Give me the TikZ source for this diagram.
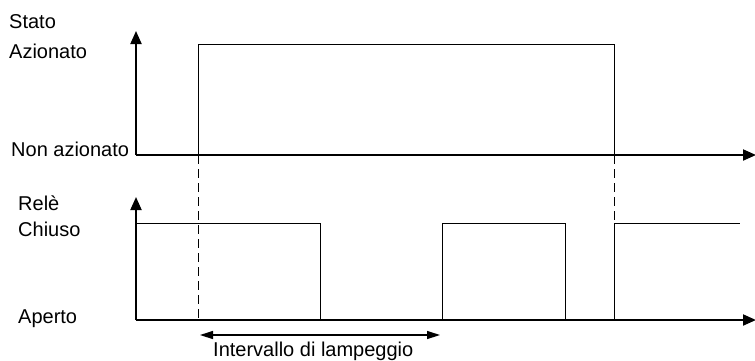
\documentclass[tikz,border=0pt]{standalone}
\usepackage{fontspec}
\setmainfont{Liberation Sans}
\usetikzlibrary{arrows,arrows.meta,positioning,calc}

\begin{document}
\begin{tikzpicture}[x=1pt,y=-1pt,
  axis/.style={line width=2pt,-{Triangle[length=13pt,width=11pt]}},
  signal/.style={line width=1pt},
  guide/.style={line width=1pt,dash pattern=on 9pt off 5pt},
  span/.style={line width=1.4pt,{Triangle[length=13pt,width=8pt]}-{Triangle[length=13pt,width=8pt]}},
  lbl/.style={anchor=base west,inner sep=0,font=\fontsize{20}{20}\selectfont}]

\useasboundingbox (0,0) rectangle (755,360);

% stato
\draw[axis] (136,155) coordinate (SO) -- (136,31) coordinate (SY);
\draw[axis] (SO) -- (756,155) coordinate (SX);

\draw[signal] (198,155) coordinate (SA)
  -- (198,44) coordinate (SB)
  -- (614,44) coordinate (SC)
  -- (614,155) coordinate (SD)
;

% rele
\draw[axis] (136,320) coordinate (RO) -- (136,197) coordinate (RY);
\draw[axis] (RO) -- (756,320) coordinate (RX);

\draw[signal] (136,223) coordinate (RA)
  -- (320,223) coordinate (RB)
  -- (320,320) coordinate (RC)
  -- (442,320) coordinate (RD)
  -- (442,223) coordinate (RE)
  -- (565,223) coordinate (RF)
  -- (565,320) coordinate (RG)
  -- (614,320) coordinate (RH)
  -- (614,223) coordinate (RI)
  -- (740,223) coordinate (RJ)
;

\draw[guide] (SA) -- (SA |- RO);
\draw[guide] (SD) -- (RI);

% labels
\node[lbl] (stato) at (9,28) {Stato};
\node[lbl] (azionato) at (9,58) {Azionato};
\node[lbl] (nonazionato) at (11,156) {Non azionato};
\node[lbl] (rele) at (18,210) {Relè};
\node[lbl] (chiuso) at (18,236) {Chiuso};
\node[lbl] (aperto) at (18,323) {Aperto};

\coordinate (IA) at (200,335);
\coordinate (IB) at (440,335);
\draw[span] (IA) -- (IB);
\node[lbl] (intervallo) at (213,356) {Intervallo di lampeggio};

\end{tikzpicture}
\end{document}
